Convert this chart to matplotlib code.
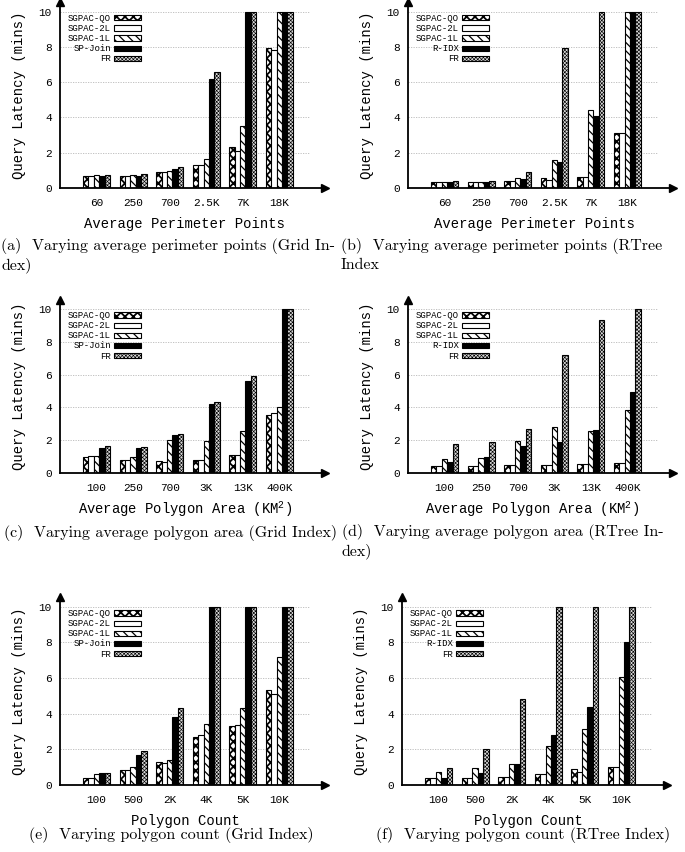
import numpy as np
import matplotlib
matplotlib.use('Agg')
import matplotlib.pyplot as plt

plt.rcParams['font.family'] = ['Liberation Mono', 'DejaVu Sans Mono']
plt.rcParams['hatch.linewidth'] = 0.5

# x categories
perim_labels = ['60', '250', '700', '2.5K', '7K', '18K']
area_labels = ['100', '250', '700', '3K', '13K', '400K']
count_labels = ['100', '500', '2K', '4K', '5K', '10K']

series_grid = ['SGPAC-QO', 'SGPAC-2L', 'SGPAC-1L', 'SP-Join', 'FR']
series_rtree = ['SGPAC-QO', 'SGPAC-2L', 'SGPAC-1L', 'R-IDX', 'FR']

# query latency in minutes, one row per series (bars past 10 are cut at 10)
perim_grid = [
    [0.70, 0.70, 0.93, 1.28, 2.31, 7.94],
    [0.70, 0.70, 0.93, 1.28, 2.10, 7.84],
    [0.73, 0.75, 0.95, 1.63, 3.53, 10],
    [0.66, 0.70, 1.07, 6.19, 10, 10],
    [0.74, 0.78, 1.18, 6.60, 10, 10],
]
perim_rtree = [
    [0.35, 0.35, 0.38, 0.58, 0.62, 3.10],
    [0.35, 0.35, 0.38, 0.45, 0.62, 3.10],
    [0.35, 0.35, 0.56, 1.60, 4.43, 10],
    [0.35, 0.35, 0.50, 1.45, 4.07, 10],
    [0.37, 0.37, 0.90, 7.92, 10, 10],
]
area_grid = [
    [0.98, 0.81, 0.71, 0.79, 1.12, 3.56],
    [1.04, 0.81, 0.70, 0.79, 1.12, 3.65],
    [1.04, 1.00, 2.04, 1.98, 2.55, 4.03],
    [1.55, 1.53, 2.34, 4.20, 5.62, 10],
    [1.63, 1.57, 2.40, 4.34, 5.89, 10],
]
area_rtree = [
    [0.43, 0.43, 0.47, 0.50, 0.53, 0.59],
    [0.43, 0.45, 0.47, 0.50, 0.53, 0.59],
    [0.84, 0.92, 1.93, 2.81, 2.57, 3.85],
    [0.65, 0.98, 1.67, 1.89, 2.61, 4.95],
    [1.79, 1.87, 2.71, 7.19, 9.33, 10],
]
count_grid = [
    [0.39, 0.84, 1.28, 2.72, 3.30, 5.33],
    [0.41, 0.84, 1.22, 2.80, 3.36, 5.10],
    [0.60, 1.00, 1.43, 3.41, 4.33, 7.19],
    [0.68, 1.69, 3.83, 10, 10, 10],
    [0.68, 1.88, 4.33, 10, 10, 10],
]
count_rtree = [
    [0.38, 0.40, 0.47, 0.64, 0.90, 0.99],
    [0.38, 0.40, 0.47, 0.64, 0.75, 0.99],
    [0.71, 0.94, 1.20, 2.20, 3.13, 6.08],
    [0.39, 0.66, 1.16, 2.81, 4.37, 8.01],
    [0.94, 2.03, 4.84, 10, 10, 10],
]

W, H = 685, 852
fig = plt.figure(figsize=(W / 100, H / 100), dpi=100)

styles = [
    dict(facecolor='white', hatch='xxxx'),
    dict(facecolor='white'),
    dict(facecolor='white', hatch='\\\\\\\\'),
    dict(facecolor='black'),
    dict(facecolor='0.85', hatch='xxxxxxxxx'),
]
hatch_lw = [1.3, 0.5, 0.9, 0.5, 0.45]
bw = 0.148


def set_hlw(artists, lw):
    for a in artists:
        if hasattr(a, 'set_hatch_linewidth'):
            a.set_hatch_linewidth(lw)


def add_panel(left, top, right, bottom, vals, cats, names, xlabel, xlab_x):
    ax = fig.add_axes([left / W, 1 - bottom / H, (right - left) / W, (bottom - top) / H])
    x = np.arange(len(cats))
    for i, v in enumerate(vals):
        bars = ax.bar(x + (i - 2) * bw, v, bw, edgecolor='black', linewidth=0.8,
                      label=names[i], **styles[i])
        set_hlw(bars, hatch_lw[i])
    ax.set_xlim(-1.0, 6.25)
    ax.set_ylim(0, 10.55)
    ax.hlines([2, 4, 6, 8, 10], -1.0, 5.85, colors='0.72', linestyles=(0, (1.5, 1.5)),
              linewidth=0.6, zorder=0)
    ax.set_xticks(x)
    ax.set_xticklabels(cats, fontsize=8)
    ax.set_yticks([0, 2, 4, 6, 8, 10])
    ax.tick_params(length=0, labelsize=8, pad=6)
    ax.tick_params(axis='x', pad=7)
    for s in ['top', 'right']:
        ax.spines[s].set_visible(False)
    for s in ['left', 'bottom']:
        ax.spines[s].set_linewidth(1.3)
    ax.plot(1, 0, '>k', ms=6, transform=ax.transAxes, clip_on=False)
    ax.plot(0, 1, '^k', ms=6, transform=ax.transAxes, clip_on=False)
    ax.set_ylabel('Query Latency (mins)', fontsize=10, labelpad=9)
    leg = ax.legend(loc='upper left', bbox_to_anchor=(0.03, 0.935), frameon=False,
                    fontsize=6.5, markerfirst=False, handlelength=3.0, handleheight=0.5,
                    handletextpad=0.35, labelspacing=0.12, borderpad=0, borderaxespad=0)
    for h, lw in zip(leg.legend_handles, hatch_lw):
        set_hlw([h], lw)
    fig.text(xlab_x / W, 1 - (bottom + 36) / H, xlabel, fontsize=10,
             ha='center', va='center')
    return ax


def caption(x, y, s, ha='left'):
    fig.text(x / W, 1 - y / H, s, fontsize=11.5, family='cmr10', ha=ha, va='center')


area_xlabel = 'Average Polygon Area (KM$\\mathregular{^2}$)'

add_panel(60, 2, 325, 188, perim_grid, perim_labels, series_grid,
          'Average Perimeter Points', 185)
add_panel(408, 2, 673, 188, perim_rtree, perim_labels, series_rtree,
          'Average Perimeter Points', 534)
add_panel(60, 300, 325, 473, area_grid, area_labels, series_grid,
          area_xlabel, 185)
add_panel(408, 300, 673, 473, area_rtree, area_labels, series_rtree,
          area_xlabel, 532)
add_panel(60, 597, 325, 785, count_grid, count_labels, series_grid,
          'Polygon Count', 185)
add_panel(402, 597, 667, 785, count_rtree, count_labels, series_rtree,
          'Polygon Count', 528)

caption(1, 246, '(a)  Varying average perimeter points (Grid In-')
caption(1, 265, 'dex)')
caption(341, 246, '(b)  Varying average perimeter points (RTree')
caption(341, 265, 'Index')
caption(170, 533, '(c)  Varying average polygon area (Grid Index)', ha='center')
caption(342, 532, '(d)  Varying average polygon area (RTree In-')
caption(342, 551, 'dex)')
caption(171, 835, '(e)  Varying polygon count (Grid Index)', ha='center')
caption(523, 835, '(f)  Varying polygon count (RTree Index)', ha='center')

fig.savefig('out.png', dpi=100)
